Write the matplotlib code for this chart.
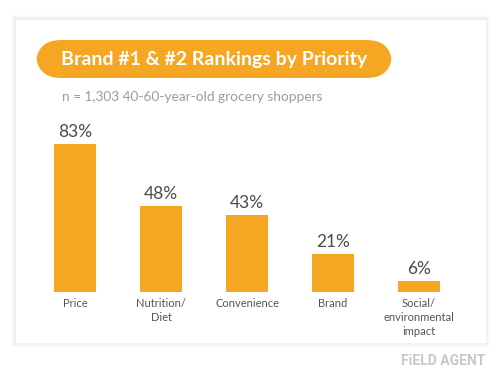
import matplotlib
matplotlib.use("Agg")
import matplotlib.pyplot as plt
from matplotlib.patches import FancyBboxPatch, Rectangle

# ── Data ──────────────────────────────────────────────
categories = ["Price", "Nutrition/\nDiet", "Convenience", "Brand", "Social/\nenvironmental\nimpact"]
values = [83, 48, 43, 21, 6]
value_labels = ["83%", "48%", "43%", "21%", "6%"]

title = "Brand #1 & #2 Rankings by Priority"
subtitle = "n = 1,303 40-60-year-old grocery shoppers"

ORANGE = "#f5a623"
W, H = 500, 375

plt.rcParams["font.family"] = ["Lato", "DejaVu Sans"]

fig = plt.figure(figsize=(5, 3.75), dpi=100, facecolor="white")

def px(x, y, w, h):
    # pixel box (top-left origin) -> figure fraction
    return x / W, 1 - (y + h) / H, w / W, h / H

# ── Card with soft shadow ─────────────────────────────
cx, cy, cw, ch = px(15, 19, 471, 324)
for i, a in enumerate([0.025, 0.02, 0.015, 0.01]):
    d = (i + 1) * 1.0
    fig.patches.append(Rectangle((cx - d / W, cy - d / H), cw + 2 * d / W, ch + 2 * d / H,
                                 transform=fig.transFigure, facecolor="#000000",
                                 alpha=a, edgecolor="none", zorder=0))
fig.patches.append(Rectangle((cx, cy), cw, ch, transform=fig.transFigure,
                             facecolor="white", edgecolor="#f0f0f0", lw=0.5, zorder=1))

# ── Title pill ────────────────────────────────────────
px_, py_, pw, ph = px(36, 40, 356, 38)
pill = FancyBboxPatch((px_, py_), pw, ph, boxstyle=f"round,pad=0,rounding_size={19 / H}",
                      transform=fig.transFigure, facecolor=ORANGE, edgecolor="none",
                      mutation_aspect=W / H, zorder=2)
fig.patches.append(pill)
fig.text(214 / W, 1 - 59 / H, title, color="white", fontsize=14, fontweight="bold",
         ha="center", va="center", zorder=3)
fig.text(62 / W, 1 - 97 / H, subtitle, color="#9b9b9b", fontsize=9.8,
         ha="left", va="center", zorder=3)

# ── Bars ──────────────────────────────────────────────
ax = fig.add_axes(px(32, 113.5, 430, 178))
ax.set_zorder(3)
ax.patch.set_alpha(0)
x = range(len(categories))
ax.bar(x, values, width=0.49, color=ORANGE)
for xi, v, lab in zip(x, values, value_labels):
    ax.annotate(lab, (xi, v), xytext=(0, 3), textcoords="offset points",
                ha="center", va="bottom", fontsize=12.5, color="#4a4a4a")
ax.set_xlim(-0.5, 4.5)
ax.set_ylim(0, 100)
ax.set_xticks(list(x))
ax.set_xticklabels(categories, fontsize=8, color="#555555", linespacing=1.3)
ax.tick_params(axis="x", length=0, pad=5)
ax.set_yticks([])
for s in ax.spines.values():
    s.set_visible(False)

# ── Watermark ─────────────────────────────────────────
fig.text(485 / W, 1 - 361 / H, "FiELD AGENT", color="#c8c8c8", fontsize=10,
         fontweight="bold", family=["Roboto", "DejaVu Sans"],
         ha="right", va="center")

fig.savefig("out.png", dpi=100, facecolor="white")
